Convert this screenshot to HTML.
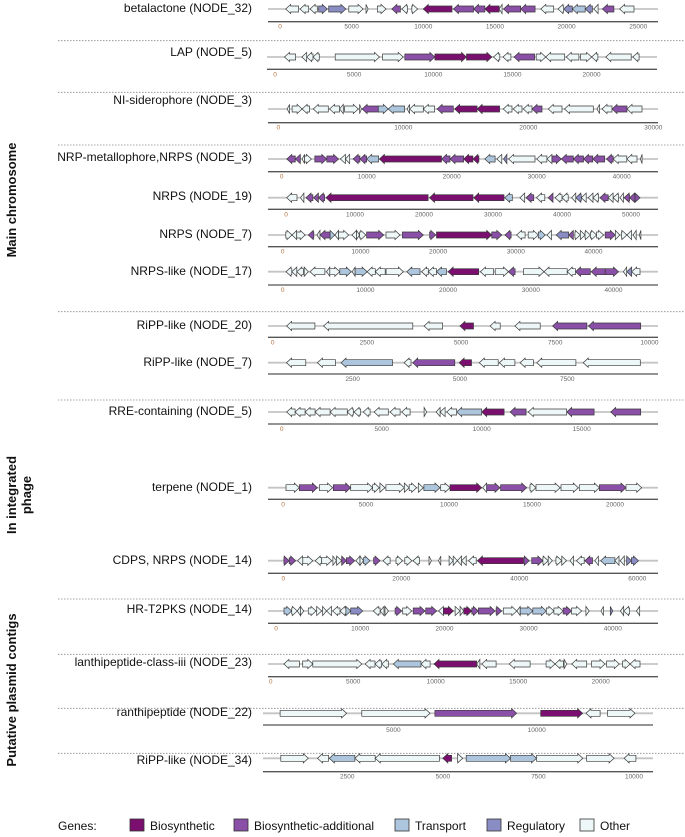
<!DOCTYPE html>
<html><head><meta charset="utf-8"><style>
body{margin:0;background:#fff;}
svg{display:block;font-family:"Liberation Sans",sans-serif;}
</style></head><body>
<svg id="chart" width="685" height="837" viewBox="0 0 685 837">
<g id="seps"></g>
<g id="tracks"></g>
<g font-weight="bold" font-size="13" fill="#111">
<text transform="translate(16,200) rotate(-90)" text-anchor="middle">Main chromosome</text>
<text transform="translate(16,495) rotate(-90)" text-anchor="middle">In integrated</text>
<text transform="translate(31,495) rotate(-90)" text-anchor="middle">phage</text>
<text transform="translate(16,690) rotate(-90)" text-anchor="middle">Putative plasmid contigs</text>
</g>
<g id="legend" font-size="12" fill="#111">
<text x="58" y="830">Genes:</text>
<rect x="130" y="819" width="14" height="12" fill="#7b0f6f" stroke="#333" stroke-width="0.8"/>
<text x="150" y="830">Biosynthetic</text>
<rect x="234" y="819" width="14" height="12" fill="#8a4fa6" stroke="#333" stroke-width="0.8"/>
<text x="254" y="830">Biosynthetic-additional</text>
<rect x="395" y="819" width="14" height="12" fill="#adc6de" stroke="#333" stroke-width="0.8"/>
<text x="415" y="830">Transport</text>
<rect x="487" y="819" width="14" height="12" fill="#8a8dc4" stroke="#333" stroke-width="0.8"/>
<text x="507" y="830">Regulatory</text>
<rect x="580" y="819" width="14" height="12" fill="#edf7f7" stroke="#333" stroke-width="0.8"/>
<text x="600" y="830">Other</text>
</g>
</svg>
<script>
// gene data: [start_kb, end_kb, strand, type]
var genes_betalactone=[[0.4,1.3,-1,'O'],[1.4,2.0,-1,'O'],[2.1,2.6,-1,'O'],[2.7,3.3,1,'R'],[3.4,4.6,1,'R'],[4.8,5.8,1,'O'],[6.0,6.15,1,'O'],[6.8,7.4,1,'O'],[7.8,8.4,-1,'A'],[8.5,8.9,-1,'O'],[9.2,9.6,1,'O'],[10.0,12.0,-1,'B'],[12.1,13.5,-1,'A'],[13.5,14.3,-1,'A'],[14.3,15.3,-1,'B'],[15.3,15.5,-1,'O'],[15.6,16.8,-1,'A'],[16.8,17.8,-1,'A'],[18.2,19.1,-1,'O'],[19.4,19.8,-1,'O'],[19.8,20.4,-1,'R'],[20.4,21.3,-1,'T'],[21.3,21.8,-1,'R'],[21.9,22.2,-1,'O'],[22.5,23.3,-1,'A'],[23.7,24.7,-1,'O']];
var genes_lap=[[0.6,1.3,-1,'O'],[1.7,2.0,-1,'O'],[2.0,2.4,-1,'O'],[2.4,2.8,-1,'O'],[3.8,6.6,1,'O'],[6.8,8.1,1,'O'],[8.2,10.1,1,'A'],[10.1,12.1,1,'B'],[12.1,13.7,1,'B'],[13.8,14.2,-1,'O'],[14.4,14.9,-1,'O'],[15.1,16.4,-1,'A'],[16.5,17.1,1,'O'],[17.1,18.3,-1,'O'],[18.4,19.2,-1,'O'],[19.3,20.0,1,'O'],[20.0,20.4,-1,'O'],[20.9,22.5,-1,'O'],[22.6,23.0,-1,'O']];
var genes_nisid=[[0.7,0.9,-1,'O'],[1.1,1.9,1,'O'],[1.9,2.5,-1,'O'],[2.8,4.0,-1,'O'],[4.1,4.9,-1,'O'],[4.9,5.2,-1,'O'],[5.3,6.4,1,'O'],[6.5,6.65,1,'O'],[6.7,8.0,-1,'A'],[8.0,8.8,1,'T'],[8.8,10.1,-1,'T'],[10.3,10.5,-1,'O'],[10.5,11.6,-1,'O'],[11.6,12.5,-1,'O'],[12.7,14.0,-1,'A'],[14.1,15.9,-1,'B'],[15.9,17.7,-1,'B'],[18.0,18.7,-1,'O'],[18.8,19.5,-1,'O'],[19.6,20.3,-1,'O'],[20.3,21.1,-1,'A'],[21.6,22.7,-1,'O'],[22.9,25.2,-1,'O'],[25.5,25.7,-1,'O'],[25.9,26.7,-1,'O'],[26.7,27.9,-1,'A'],[27.9,29.1,-1,'O']];
var genes_nrpmet=[[0.6,1.6,-1,'A'],[1.6,2.2,-1,'A'],[2.4,2.7,-1,'O'],[2.7,3.5,1,'O'],[3.9,5.3,1,'A'],[5.3,6.7,1,'A'],[6.9,7.5,-1,'O'],[7.5,8.0,-1,'O'],[8.4,9.2,-1,'A'],[9.2,10.0,-1,'A'],[10.0,11.4,-1,'T'],[11.5,18.8,-1,'B'],[18.8,19.8,-1,'A'],[19.8,21.4,-1,'A'],[21.4,22.5,-1,'B'],[22.5,23.2,-1,'B'],[23.9,25.1,-1,'T'],[25.3,25.9,-1,'O'],[26.1,26.5,-1,'R'],[26.7,29.8,-1,'O'],[30.0,31.2,-1,'O'],[31.2,31.8,-1,'O'],[31.8,32.9,1,'A'],[32.9,34.3,-1,'A'],[34.3,35.5,-1,'A'],[35.5,36.6,-1,'A'],[36.6,38.0,-1,'A'],[38.2,39.0,-1,'A'],[39.0,40.6,-1,'O'],[40.6,41.8,-1,'O'],[42.2,42.4,-1,'O']];
var genes_nrps19=[[0.1,1.6,-1,'O'],[2.1,2.6,-1,'O'],[2.9,3.9,-1,'A'],[4.0,4.7,-1,'A'],[4.7,5.6,-1,'A'],[5.8,20.6,-1,'B'],[20.8,27.1,-1,'B'],[27.2,31.6,-1,'B'],[31.7,32.8,-1,'T'],[33.9,34.6,-1,'O'],[34.8,35.9,-1,'A'],[36.3,37.5,-1,'O'],[38.0,38.7,-1,'A'],[39.0,40.0,-1,'O'],[40.0,40.9,-1,'O'],[41.4,42.0,-1,'O'],[42.0,42.8,-1,'R'],[42.8,43.5,-1,'O'],[43.8,44.5,-1,'O'],[44.5,45.3,-1,'O'],[45.5,46.7,-1,'A'],[46.7,47.4,-1,'O'],[47.4,48.2,-1,'O'],[48.4,48.9,-1,'O'],[49.0,49.8,-1,'A'],[49.8,50.6,-1,'A'],[50.6,51.3,1,'A']];
var genes_nrps7=[[0.4,1.2,1,'O'],[1.2,1.8,-1,'O'],[1.8,2.9,1,'O'],[3.3,4.0,-1,'A'],[4.4,4.8,-1,'O'],[4.8,6.1,-1,'A'],[6.1,6.7,1,'T'],[6.7,7.2,-1,'O'],[7.2,8.5,1,'O'],[8.9,9.5,-1,'O'],[9.5,9.9,1,'O'],[9.9,10.7,1,'O'],[10.8,13.0,1,'A'],[13.3,15.1,1,'O'],[15.4,18.1,1,'A'],[18.9,19.7,1,'A'],[19.8,26.9,1,'B'],[26.9,28.2,1,'A'],[28.6,29.4,-1,'A'],[30.1,31.2,-1,'O'],[31.6,32.9,1,'O'],[32.9,33.8,1,'T'],[34.0,34.6,-1,'O'],[35.2,36.8,-1,'R'],[36.8,37.4,-1,'A'],[37.6,38.3,1,'O'],[38.3,38.9,1,'O'],[38.9,39.6,1,'O'],[39.6,40.4,1,'O'],[40.4,41.3,1,'O'],[41.5,42.8,1,'A'],[42.8,43.4,1,'O'],[43.6,44.3,1,'O'],[44.3,44.9,-1,'O'],[45.1,45.5,-1,'O'],[45.9,46.1,-1,'O']];
var genes_nrpslike=[[0.4,1.1,-1,'O'],[1.1,1.7,-1,'O'],[1.7,2.5,-1,'O'],[2.6,3.1,1,'O'],[3.3,5.1,-1,'O'],[5.3,5.7,-1,'O'],[5.7,6.9,1,'O'],[6.9,8.3,1,'T'],[8.4,8.75,-1,'O'],[8.75,10.2,1,'T'],[10.2,11.2,-1,'O'],[11.2,12.4,-1,'O'],[12.5,14.6,1,'O'],[15.0,16.6,-1,'T'],[16.8,17.6,-1,'O'],[17.6,18.6,-1,'O'],[18.6,19.8,-1,'T'],[20.0,23.7,-1,'B'],[23.9,25.5,-1,'O'],[25.7,27.3,1,'O'],[27.3,28.1,-1,'A'],[29.1,31.6,1,'O'],[31.6,34.4,-1,'O'],[34.4,35.4,-1,'O'],[35.4,37.2,-1,'A'],[37.3,39.0,-1,'A'],[39.0,40.6,1,'A'],[41.2,41.6,-1,'O'],[41.6,42.2,-1,'R'],[42.2,43.2,-1,'O']];
var genes_ripp20=[[0.37,1.12,-1,'O'],[1.35,3.72,-1,'O'],[4.02,4.51,-1,'O'],[4.97,5.33,-1,'B'],[5.77,6.04,-1,'O'],[6.43,7.10,-1,'O'],[7.43,8.34,-1,'A'],[8.38,9.77,-1,'A']];
var genes_ripp7=[[0.96,1.41,-1,'O'],[1.68,2.10,-1,'O'],[2.23,3.43,-1,'T'],[3.70,3.86,-1,'O'],[3.90,4.88,-1,'A'],[4.98,5.27,-1,'B'],[5.45,5.89,-1,'O'],[5.92,6.28,-1,'O'],[6.40,6.71,-1,'O'],[6.79,7.70,-1,'O'],[7.87,9.20,-1,'O']];
var genes_rre=[[0.25,0.67,-1,'O'],[0.67,1.17,-1,'O'],[1.17,1.67,-1,'O'],[1.67,2.42,-1,'O'],[2.42,3.28,-1,'O'],[3.28,3.58,-1,'O'],[3.62,3.95,-1,'O'],[4.08,4.42,-1,'O'],[4.62,5.33,-1,'O'],[5.42,5.92,-1,'O'],[6.0,6.42,-1,'O'],[7.12,7.25,1,'O'],[7.72,7.92,-1,'O'],[7.92,8.17,-1,'O'],[8.25,8.75,-1,'O'],[8.75,10.0,-1,'T'],[10.0,11.12,-1,'B'],[11.42,12.22,-1,'A'],[12.33,14.25,-1,'O'],[14.25,15.62,-1,'A'],[16.45,17.95,-1,'A']];
var genes_terpene=[[0.18,0.98,1,'O'],[0.98,2.07,1,'A'],[2.19,2.99,1,'O'],[3.03,4.08,1,'A'],[4.08,5.4,1,'O'],[5.4,5.8,1,'O'],[5.84,6.14,1,'O'],[6.2,7.31,1,'O'],[7.31,7.6,1,'O'],[7.6,8.05,1,'O'],[8.15,8.45,1,'O'],[8.49,9.46,1,'T'],[9.5,10.06,1,'O'],[10.06,11.97,1,'B'],[12.03,12.27,-1,'O'],[12.27,13.07,1,'A'],[13.11,14.68,1,'A'],[14.88,15.24,1,'O'],[15.24,16.69,1,'O'],[16.75,17.79,1,'O'],[17.85,19.06,1,'O'],[19.06,20.66,1,'A'],[20.66,21.61,1,'O']];
var genes_cdps=[[0.1,1.0,1,'A'],[1.0,2.1,1,'A'],[2.4,3.3,-1,'O'],[3.3,5.0,1,'O'],[5.4,6.5,-1,'O'],[6.5,8.2,1,'O'],[8.4,9.0,1,'O'],[9.0,9.9,1,'O'],[9.9,10.7,1,'A'],[10.7,12.1,1,'A'],[12.3,13.0,-1,'O'],[13.0,13.6,1,'O'],[13.6,14.7,1,'T'],[15.3,16.4,1,'A'],[16.9,18.1,-1,'O'],[19.1,20.2,1,'O'],[20.6,21.8,1,'O'],[22.0,23.1,-1,'O'],[24.7,25.1,1,'O'],[26.3,26.7,-1,'O'],[28.1,28.8,1,'O'],[28.8,29.5,1,'O'],[29.5,30.2,-1,'O'],[30.2,31.0,-1,'O'],[31.4,32.7,-1,'O'],[32.9,40.7,-1,'B'],[40.8,41.7,1,'A'],[42.1,44.0,1,'A'],[44.0,44.9,1,'O'],[44.9,45.6,1,'O'],[46.2,47.2,1,'O'],[47.2,48.0,1,'O'],[48.6,49.2,-1,'O'],[49.7,51.0,-1,'O'],[51.1,52.4,-1,'A'],[52.8,53.4,-1,'O'],[53.8,56.2,-1,'T'],[56.2,56.9,-1,'O'],[57.1,57.8,-1,'O'],[58.2,59.0,1,'R'],[59.0,60.2,1,'R']];
var genes_hrt2pks=[[0.95,1.86,1,'T'],[1.86,2.53,1,'O'],[2.53,2.9,-1,'O'],[2.9,3.3,1,'O'],[3.84,4.75,1,'O'],[4.83,5.43,1,'O'],[5.54,6.0,1,'O'],[6.0,6.6,-1,'O'],[6.73,7.6,-1,'O'],[7.6,8.3,-1,'O'],[8.3,8.87,1,'T'],[8.87,10.3,1,'R'],[11.56,12.36,-1,'O'],[12.36,12.83,-1,'O'],[12.95,13.35,1,'O'],[14.14,14.93,1,'A'],[15.05,16.12,1,'O'],[16.3,17.7,1,'A'],[17.78,19.09,1,'A'],[19.3,19.88,-1,'O'],[19.88,21.07,1,'B'],[21.27,21.86,1,'O'],[21.86,22.3,1,'O'],[22.3,23.25,1,'B'],[23.25,24.04,1,'A'],[24.04,26.02,1,'A'],[26.14,26.8,1,'A'],[27.0,28.6,1,'O'],[28.6,29.0,-1,'O'],[29.0,30.5,1,'T'],[30.5,32.1,1,'T'],[32.1,33.0,1,'O'],[33.0,34.1,1,'O'],[34.1,35.1,1,'A'],[35.1,36.3,1,'O'],[36.8,37.2,1,'O'],[38.6,38.9,-1,'O'],[39.7,40.0,1,'R'],[40.9,41.3,-1,'O'],[41.3,42.0,-1,'O'],[42.8,43.2,-1,'O']];
var genes_lanthi=[[0.8,1.74,-1,'O'],[1.94,2.55,1,'O'],[2.55,5.52,1,'O'],[5.72,6.32,-1,'O'],[6.32,6.73,-1,'O'],[6.73,7.13,-1,'O'],[7.43,9.11,-1,'T'],[9.11,9.66,-1,'O'],[9.9,12.48,-1,'B'],[12.48,12.68,-1,'O'],[12.79,13.66,-1,'O'],[14.46,15.72,-1,'O'],[16.69,17.23,1,'O'],[17.23,17.74,-1,'O'],[17.78,17.95,1,'O'],[18.24,19.15,-1,'O'],[19.45,20.26,1,'O'],[20.36,21.13,1,'O'],[21.33,21.78,1,'O'],[21.78,22.38,-1,'O']];
var genes_ranthi=[[1.05,3.37,1,'O'],[3.9,6.28,1,'O'],[6.45,9.3,1,'A'],[10.14,11.6,1,'B'],[11.72,12.21,-1,'O'],[12.47,13.43,1,'O']];
var genes_ripp34=[[0.76,1.48,1,'O'],[1.72,2.01,-1,'O'],[2.03,2.7,-1,'T'],[2.7,3.23,-1,'O'],[3.23,4.91,-1,'O'],[5.0,5.23,-1,'B'],[5.38,5.52,1,'O'],[5.61,6.77,1,'T'],[6.77,7.45,1,'T'],[7.45,8.66,1,'O'],[8.76,9.48,1,'O'],[9.74,10.05,-1,'O']];
// tick labels (bp)
var ticks_betalactone=[0,5000,10000,15000,20000,25000];
var ticks_lap=[0,5000,10000,15000,20000];
var ticks_nisid=[0,10000,20000,30000];
var ticks_nrpmet=[0,10000,20000,30000,40000];
var ticks_nrps19=[0,10000,20000,30000,40000,50000];
var ticks_nrps7=[0,10000,20000,30000,40000];
var ticks_nrpslike=[0,10000,20000,30000,40000];
var ticks_ripp20=[0,2500,5000,7500,10000];
var ticks_ripp7=[2500,5000,7500];
var ticks_rre=[0,5000,10000,15000];
var ticks_terpene=[0,5000,10000,15000,20000];
var ticks_cdps=[0,20000,40000,60000];
var ticks_hrt2pks=[0,10000,20000,30000,40000];
var ticks_lanthi=[0,5000,10000,15000,20000];
var ticks_ranthi=[5000,10000];
var ticks_ripp34=[2500,5000,7500,10000];
var labels=['betalactone (NODE_32)','LAP (NODE_5)','NI-siderophore (NODE_3)','NRP-metallophore,NRPS  (NODE_3)','NRPS (NODE_19)','NRPS (NODE_7)','NRPS-like  (NODE_17)','RiPP-like (NODE_20)','RiPP-like (NODE_7)','RRE-containing (NODE_5)','terpene (NODE_1)','CDPS, NRPS (NODE_14)','HR-T2PKS (NODE_14)','lanthipeptide-class-iii (NODE_23)','ranthipeptide (NODE_22)','RiPP-like (NODE_34)'];
var NS='http://www.w3.org/2000/svg';
var colors={B:'#7b0f6f',A:'#8a4fa6',T:'#adc6de',R:'#8a8dc4',O:'#edf7f7'};
// layout: [lineY, axisY, labelY, origin px, px per kb, axisL, axisR]
var layout=[[9,21.7,12,280,14.33,268,658],[57,69.3,56,275,15.83,267,657],[109,122.7,104,278.3,12.5,268,658],[159,171.7,161,281.7,8.5,268,658],[197.7,209.3,200,286,6.9,268,658],[235,246.7,238,282.7,7.77,268,658],[271.7,285,275,282.7,8.27,268,658],[326,337.3,329,272.7,37.67,268,658],[362.7,374,366,245.3,42.93,268,658],[412,424,415,281.7,20,268,658],[487.7,499.3,491,283,16.6,268,658],[560.7,573.3,564,283.3,5.9,268,658],[611,623.3,613,276,8.42,268,658],[664,676.7,666,270.7,16.5,268,658],[713.3,725,716,250,28.67,263,653],[758.3,771.7,764,251.7,38.23,263,653]];
var allGenes=[genes_betalactone,genes_lap,genes_nisid,genes_nrpmet,genes_nrps19,genes_nrps7,genes_nrpslike,genes_ripp20,genes_ripp7,genes_rre,genes_terpene,genes_cdps,genes_hrt2pks,genes_lanthi,genes_ranthi,genes_ripp34];
var allTicks=[ticks_betalactone,ticks_lap,ticks_nisid,ticks_nrpmet,ticks_nrps19,ticks_nrps7,ticks_nrpslike,ticks_ripp20,ticks_ripp7,ticks_rre,ticks_terpene,ticks_cdps,ticks_hrt2pks,ticks_lanthi,ticks_ranthi,ticks_ripp34];
var sepYs=[40.7,92.3,145,311.7,400,599,654.3,708.3,753.3];
function mk(tag,attrs,parent){var e=document.createElementNS(NS,tag);for(var k in attrs)e.setAttribute(k,attrs[k]);parent.appendChild(e);return e;}
var sepG=document.getElementById('seps');
sepYs.forEach(function(y){
  var l=mk('line',{x1:58,x2:685,y1:y,y2:y,stroke:'#888','stroke-width':0.8,'stroke-dasharray':'1.5,1.5'},sepG);
  
  
});
var tg=document.getElementById('tracks');
allGenes.forEach(function(genes,i){
  var L=layout[i];var y=L[0];
  var xs=function(kb){return L[3]+kb*L[4];};
  var g=mk('g',{},tg);
  
  
  var t=mk('text',{x:252,y:L[2],'text-anchor':'end','font-size':12,fill:'#111'},g);
  t.textContent=labels[i];
  
  
  var bl=mk('line',{x1:L[5],x2:L[6],y1:y,y2:y,stroke:'#c4c4c4','stroke-width':1.8},g);
  
  
  var ax=mk('line',{x1:L[5],x2:L[6],y1:L[1],y2:L[1],stroke:'#555','stroke-width':1.3},g);
  
  
  allTicks[i].forEach(function(v){
    var tt=mk('text',{x:xs(v/1000),y:L[1]+7,'text-anchor':'middle','font-size':6.5,fill:v===0?'#b5713f':'#666'},g);
    tt.textContent=String(v);
    
    
  });
  genes.forEach(function(d){
    var a=xs(d[0]),b=xs(d[1]),w=b-a,hl=Math.min(5,w),bh=3,hh=4.6,pts;
    if(d[2]>0){pts=[[a,y-bh],[b-hl,y-bh],[b-hl,y-hh],[b,y],[b-hl,y+hh],[b-hl,y+bh],[a,y+bh]];}
    else{pts=[[b,y-bh],[a+hl,y-bh],[a+hl,y-hh],[a,y],[a+hl,y+hh],[a+hl,y+bh],[b,y+bh]];}
    var p=mk('polygon',{points:pts.map(function(q){return q[0].toFixed(1)+','+q[1].toFixed(1);}).join(' '),fill:colors[d[3]],stroke:'#3a3a3a','stroke-width':0.7},g);
    
    
  });
});
</script>
</body></html>
